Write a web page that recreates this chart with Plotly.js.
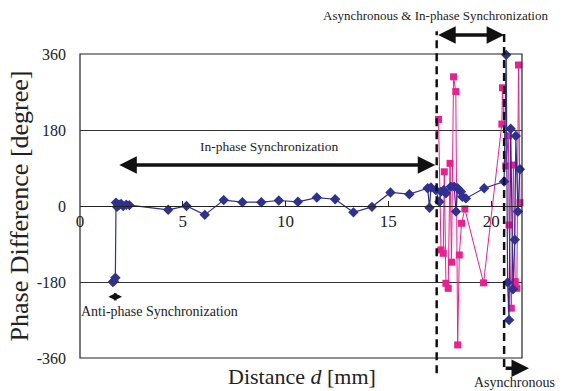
<!DOCTYPE html>
<html>
<head>
<meta charset="utf-8">
<script src="https://cdn.plot.ly/plotly-3.0.1.min.js"></script>
<style>html,body{margin:0;padding:0;background:#fff;}#chart{width:563px;height:391px;}</style>
</head>
<body>
<div id="chart"></div>
<script>
// Blue series (diamonds): distance [mm] and phase difference [degree]
var blueD = [1.6,1.65,1.72,1.75,1.8,1.9,2.0,2.1,2.25,2.4,4.29,5.18,6.07,6.99,7.9,8.82,9.67,10.6,11.52,12.41,13.3,14.2,15.1,16.02,16.91,17.0,17.07,17.3,17.48,17.56,17.7,17.8,18.04,18.2,18.29,18.37,18.53,18.6,18.77,19.66,20.63,20.73,20.8,20.87,20.95,21.06,21.15,21.2,21.3,21.4];
var blueV = [-180,-178,-170,8,-2,3,5,0,3,2,-9,0,-21,14,9,9,13,10,20,16,-15,-2,32,28,42,-4,44,38,10,34,38,30,46,46,-13,42,34,22,18,42,58,358,-181,-270,183,-197,-80,166,-13,87];
// Pink series (squares)
var pinkD = [17.44,17.56,17.67,17.72,17.80,17.91,18.00,18.07,18.17,18.28,18.37,18.45,18.56,18.72,19.63,20.52,20.55,20.71,20.84,20.87,20.98,21.08,21.17,21.25,21.33,21.40];
var pinkV = [205,-104,-112,81,-183,-195,101,-133,306,271,-329,-116,-41,-7,-182,194,280,95,166,-45,-242,97,-179,-195,334,8];

var xTicks = [0,5,10,15,20];
var yTicks = [-360,-180,0,180,360];

// region boundaries (distance)
var bound1 = 17.35, bound2 = 20.63;
var xMin = 0, xMax = 21.5, yMin = -360, yMax = 360;

var serif = 'Liberation Serif';

// convert data values to paper fractions (for items drawn outside the plot range)
function px(d) { return (d - xMin) / (xMax - xMin); }
function py(v) { return (v - yMin) / (yMax - yMin); }

var traces = [
  {x: pinkD, y: pinkV, type: 'scatter', mode: 'lines+markers',
   line: {color: '#ec1f8e', width: 1}, marker: {symbol: 'square', size: 7, color: '#ec1f8e'}, cliponaxis: false},
  {x: blueD, y: blueV, type: 'scatter', mode: 'lines+markers',
   line: {color: '#2e3192', width: 1.2}, marker: {symbol: 'diamond', size: 8, color: '#2e3192'}, cliponaxis: false}
];

function arrow(x0, x1, y, both, w, s) {
  return {x: px(x1), y: py(y), ax: px(x0), ay: py(y), xref: 'paper', yref: 'paper', axref: 'paper', ayref: 'paper',
    text: '', showarrow: true, arrowhead: 2, startarrowhead: 2, arrowsize: s || 1, startarrowsize: s || 1,
    arrowwidth: w || 3.5, arrowcolor: '#111', arrowside: both ? 'end+start' : 'end'};
}
function label(text, x, y, size, xanchor) {
  return {x: px(x), y: py(y), xref: 'paper', yref: 'paper', text: text, showarrow: false,
    xanchor: xanchor || 'center', yanchor: 'middle', font: {family: serif, size: size, color: '#222'}};
}

var layout = {
  width: 563, height: 391,
  margin: {l: 80, r: 41, t: 54, b: 33},
  paper_bgcolor: '#fff', plot_bgcolor: '#fff',
  showlegend: false,
  font: {family: serif, color: '#222'},
  xaxis: {range: [xMin, xMax], tickvals: xTicks, ticktext: xTicks.map(String),
    anchor: 'free', position: 0.5, showline: true, linecolor: '#222', linewidth: 1,
    ticks: 'inside', ticklen: 5, tickcolor: '#222', showgrid: false, zeroline: false,
    tickfont: {family: serif, size: 17, color: '#222'}},
  yaxis: {range: [yMin, yMax], tickvals: yTicks, ticktext: yTicks.map(String),
    showgrid: true, gridcolor: '#333', gridwidth: 1, zeroline: false, showline: false,
    ticks: '', ticklabelstandoff: 13,
    tickfont: {family: serif, size: 16, color: '#222'},
    title: {text: 'Phase Difference [degree]', font: {family: serif, size: 26, color: '#222'}, standoff: 0}},
  shapes: [
    {type: 'rect', xref: 'paper', yref: 'paper', x0: 0, x1: 1, y0: 0, y1: 1, line: {color: '#222', width: 1.2}},
    {type: 'line', xref: 'paper', yref: 'paper', x0: px(bound1), x1: px(bound1), y0: -0.05, y1: 1.075,
     line: {color: '#111', width: 2.5, dash: '8px,5px'}},
    {type: 'line', xref: 'paper', yref: 'paper', x0: px(bound2), x1: px(bound2), y0: -0.03, y1: 1.075,
     line: {color: '#111', width: 2.5, dash: '8px,5px'}}
  ],
  annotations: [
    label('In-phase Synchronization', 9.22, 142, 13.5),
    arrow(1.84, 17.28, 97, true),
    label('Asynchronous &amp; In-phase Synchronization', 22.86, 452, 13, 'right'),
    arrow(bound1, bound2, 405, true),
    label('Anti-phase Synchronization', -0.05, -249, 14, 'left'),
    arrow(1.31, 2.04, -215, true, 2, 0.8),
    label('Asynchronous', 21.15, -417, 14),
    arrow(bound2, 21.84, -384, false),
    label('Distance <i>d</i> [mm]', 10.8, -403, 22)
  ]
};

Plotly.newPlot('chart', traces, layout, {displayModeBar: false, staticPlot: true});
</script>
</body>
</html>
